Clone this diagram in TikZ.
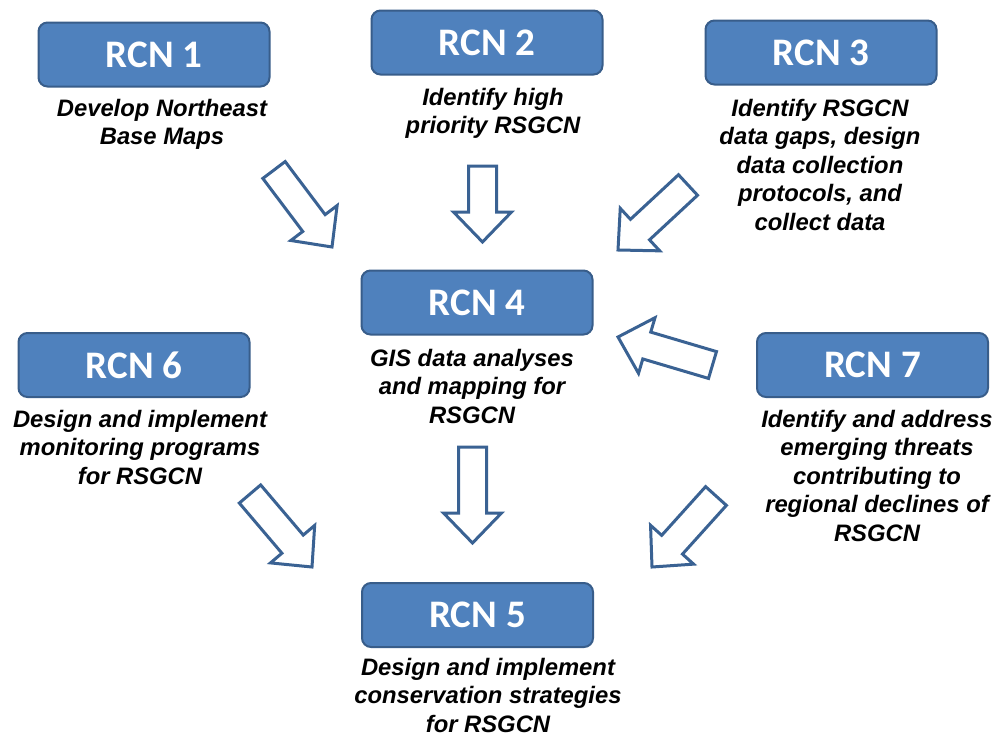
\documentclass[tikz,border=0pt]{standalone}
\usepackage{fontspec}
\setmainfont{Liberation Sans}
\newfontfamily\rcnfont{Carlito}
\usetikzlibrary{calc}
\definecolor{boxfill}{HTML}{4F81BD}
\definecolor{boxline}{HTML}{385D8A}
\definecolor{arrline}{HTML}{3A6293}
\newcommand{\blockarrow}[2]{%
  \coordinate (H) at ($(#2)!30pt!(#1)$);
  \draw[blockarr]
    ($(#1)!14pt!90:(#2)$) -- ($(H)!14pt!-90:(#1)$) -- ($(H)!29pt!-90:(#1)$) -- (#2)
    -- ($(H)!29pt!90:(#1)$) -- ($(H)!14pt!90:(#1)$) -- ($(#1)!14pt!-90:(#2)$) -- cycle;
}
\begin{document}
\begin{tikzpicture}[x=1pt,y=-1pt,
  rcnbox/.style={draw=boxline, line width=2pt, fill=boxfill, rounded corners=9pt,
    minimum width=231pt, minimum height=64pt, inner sep=0pt,
    text=white, font=\rcnfont\bfseries\fontsize{39}{39}\selectfont},
  desc/.style={anchor=north, align=center, inner sep=0pt,
    font=\bfseries\itshape\fontsize{23.8}{28.5}\selectfont},
  blockarr/.style={draw=arrline, line width=3pt, fill=white, line join=miter}]
\useasboundingbox (0,0) rectangle (998,736);
\fill[white] (0,0) rectangle (998,736);

\node[rcnbox] (r1) at (154,54.5) {RCN 1};
\node[rcnbox] (r2) at (487,42.5) {RCN 2};
\node[rcnbox] (r3) at (821,52.5) {RCN 3};
\node[rcnbox] (r4) at (477,302.5) {RCN 4};
\node[rcnbox] (r6) at (134,365) {RCN 6};
\node[rcnbox] (r7) at (872.5,365) {RCN 7};
\node[rcnbox] (r5) at (477.5,615) {RCN 5};

\node[desc] (d1) at (162,99) {Develop Northeast\\Base Maps};
\node[desc] (d2) at (493,88) {Identify high\\priority RSGCN};
\node[desc] (d3) at (820,99) {Identify RSGCN\\data gaps, design\\data collection\\protocols, and\\collect data};
\node[desc] (d4) at (472,349) {GIS data analyses\\and mapping for\\RSGCN};
\node[desc] (d6) at (140,410) {Design and implement\\monitoring programs\\for RSGCN};
\node[desc] (d7) at (877,410) {Identify and address\\emerging threats\\contributing to\\regional declines of\\RSGCN};
\node[desc] (d5) at (488,658) {Design and implement\\conservation strategies\\for RSGCN};

\coordinate (a1s) at (274,170); \coordinate (a1e) at (332,247);
\coordinate (a2s) at (482.5,166); \coordinate (a2e) at (482.5,242);
\coordinate (a3s) at (688,185); \coordinate (a3e) at (618,250);
\coordinate (a4s) at (712.5,365); \coordinate (a4e) at (618,337);
\coordinate (a5s) at (472.5,447); \coordinate (a5e) at (472.5,543);
\coordinate (a6s) at (250,494); \coordinate (a6e) at (312,567);
\coordinate (a7s) at (716,496); \coordinate (a7e) at (652,567);

\blockarrow{a1s}{a1e}
\blockarrow{a2s}{a2e}
\blockarrow{a3s}{a3e}
\blockarrow{a4s}{a4e}
\blockarrow{a5s}{a5e}
\blockarrow{a6s}{a6e}
\blockarrow{a7s}{a7e}
\end{tikzpicture}
\end{document}
